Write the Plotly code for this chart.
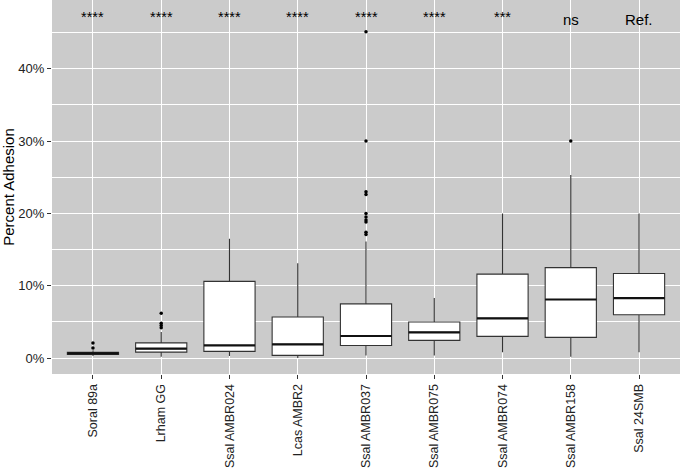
import plotly.graph_objects as go

categories = ["Soral 89a", "Lrham GG", "Ssal AMBR024", "Lcas AMBR2", "Ssal AMBR037",
              "Ssal AMBR075", "Ssal AMBR074", "Ssal AMBR158", "Ssal 24SMB"]
lower_whisker = [0.003, 0.002, 0.003, 0.000, 0.0037, 0.0037, 0.008, 0.002, 0.008]
q1 = [0.005, 0.0083, 0.0093, 0.0037, 0.0175, 0.0245, 0.030, 0.0286, 0.060]
median = [0.0065, 0.013, 0.0175, 0.019, 0.0305, 0.0355, 0.055, 0.081, 0.083]
q3 = [0.008, 0.021, 0.106, 0.0567, 0.075, 0.0498, 0.116, 0.125, 0.117]
upper_whisker = [0.011, 0.036, 0.165, 0.131, 0.161, 0.083, 0.200, 0.253, 0.200]
outlier_group = [0, 0, 1, 1, 1, 1, 4, 4, 4, 4, 4, 4, 4, 4, 4, 4, 7]
outlier_value = [0.014, 0.021, 0.042, 0.045, 0.048, 0.062,
                 0.171, 0.174, 0.188, 0.191, 0.195, 0.200, 0.226, 0.230, 0.300, 0.451,
                 0.300]
signif = ["****", "****", "****", "****", "****", "****", "***", "ns", "Ref."]

pos = list(range(len(categories)))
box_w = 0.75
line_col = "#333333"

fig = go.Figure()
fig.add_trace(go.Box(
    x=pos, q1=q1, median=median, q3=q3,
    lowerfence=lower_whisker, upperfence=upper_whisker,
    width=box_w, whiskerwidth=0, fillcolor="white",
    line=dict(color=line_col, width=1.1), boxpoints=False, showlegend=False,
    hoverinfo="skip"))

# thicker median lines (ggplot style)
mx, my = [], []
for i, m in zip(pos, median):
    mx += [i - box_w / 2, i + box_w / 2, None]
    my += [m, m, None]
fig.add_trace(go.Scatter(x=mx, y=my, mode="lines",
                         line=dict(color="#111111", width=2.2), showlegend=False,
                         hoverinfo="skip"))

fig.add_trace(go.Scatter(x=outlier_group, y=outlier_value, mode="markers",
                         marker=dict(color="black", size=3.5), showlegend=False,
                         hoverinfo="skip"))

for i, s in enumerate(signif):
    big = s in ("ns", "Ref.")
    fig.add_annotation(x=i, y=0.468 if big else 0.471, text=s, showarrow=False,
                       font=dict(size=15 if big else 14.5, color="black"),
                       xanchor="center", yanchor="middle")

fig.update_layout(
    width=680, height=470,
    margin=dict(l=52, r=0, t=0, b=96),
    paper_bgcolor="white", plot_bgcolor="#CBCBCB",
    font=dict(family="Liberation Sans, Arial, sans-serif", color="#222222"),
    xaxis=dict(range=[-0.6, 8.6], tickmode="array", tickvals=pos, ticktext=categories,
               tickangle=-90, tickfont=dict(size=12.5, color="#222222"),
               showgrid=True, gridcolor="white", gridwidth=1.3,
               ticks="outside", ticklen=4, tickcolor="#333333", tickwidth=1.2,
               zeroline=False, showline=False),
    yaxis=dict(range=[-0.022, 0.495], tickmode="array",
               tickvals=[0, 0.1, 0.2, 0.3, 0.4], ticktext=["0%", "10%", "20%", "30%", "40%"],
               tickfont=dict(size=13, color="#222222"),
               showgrid=True, gridcolor="white", gridwidth=1.3,
               minor=dict(tickvals=[0.05, 0.15, 0.25, 0.35, 0.45], showgrid=True,
                          gridcolor="white", gridwidth=0.6, ticks=""),
               ticks="outside", ticklen=4, tickcolor="#333333", tickwidth=1.2,
               zeroline=False, showline=False,
               title=dict(text="Percent Adhesion", font=dict(size=15, color="black"),
                          standoff=6)),
)

fig.write_html("out.html", config={"displayModeBar": False},
               post_script="document.body.style.margin='0';")
